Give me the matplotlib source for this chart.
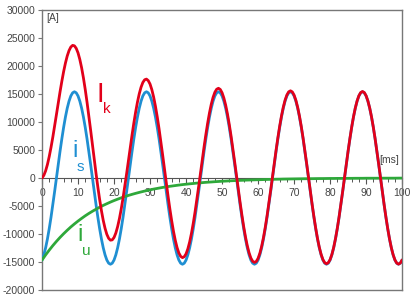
import matplotlib
matplotlib.use('agg')
import matplotlib.pyplot as plt
import numpy as np

plt.rcParams['font.family'] = ['Liberation Sans', 'DejaVu Sans']
plt.rcParams['axes.unicode_minus'] = False

# time axis [ms], 0.5 ms steps for the oscillating currents
t_ms = [0.5 * k for k in range(201)]

# symmetrical (AC) short-circuit current i_s [A], one 20 ms period
i_s_period = [-14650, -13720, -12460, -10890, -9050, -6990, -4760, -2410, 0, 2410,
              4760, 6990, 9050, 10890, 12460, 13720, 14650, 15210, 15400, 15210,
              14650, 13720, 12460, 10890, 9050, 6990, 4760, 2410, 0, -2410,
              -4760, -6990, -9050, -10890, -12460, -13720, -14650, -15210, -15400, -15210]
i_s = (i_s_period * 6)[:201]

# total short-circuit current i_k [A]
i_k = [0, 470, 1280, 2410, 3830, 5480, 7310, 9280, 11320, 13370,
       15370, 17260, 19000, 20520, 21790, 22750, 23390, 23680, 23600, 23150,
       22340, 21160, 19670, 17870, 15810, 13530, 11090, 8540, 5940, 3340,
       810, -1600, -3830, -5840, -7570, -8980, -10060, -10770, -11100, -11050,
       -10620, -9820, -8680, -7230, -5510, -3560, -1440, 810, 3110, 5430,
       7680, 9820, 11790, 13540, 15030, 16210, 17060, 17540, 17660, 17390,
       16770, 15770, 14440, 12810, 10910, 8790, 6500, 4100, 1630, -830,
       -3230, -5510, -7610, -9500, -11110, -12420, -13390, -13990, -14220, -14060,
       -13540, -12650, -11420, -9880, -8080, -6050, -3850, -1530, 860, 3240,
       5560, 7770, 9800, 11620, 13170, 14400, 15310, 15850, 16020, 15810,
       15230, 14280, 13010, 11420, 9560, 7490, 5240, 2870, 450, -1980,
       -4340, -6580, -8660, -10510, -12090, -13360, -14300, -14870, -15070, -14900,
       -14350, -13420, -12170, -10610, -8780, -6730, -4510, -2170, 240, 2640,
       4980, 7200, 9260, 11090, 12650, 13910, 14830, 15390, 15570, 15380,
       14810, 13880, 12610, 11040, 9190, 7130, 4890, 2540, 120, -2290,
       -4640, -6880, -8940, -10790, -12360, -13620, -14550, -15120, -15310, -15120,
       -14570, -13640, -12380, -10810, -8980, -6920, -4690, -2340, 60, 2470,
       4820, 7050, 9110, 10950, 12510, 13770, 14700, 15260, 15450, 15260,
       14690, 13760, 12500, 10930, 9090, 7030, 4800, 2450, 30, -2380,
       -4730, -6960, -9020, -10860, -12430, -13690, -14620, -15190, -15380, -15190,
       -14630]

# decaying DC component i_u [A], 1 ms steps
t_u = list(range(0, 101))
i_u = [-14650, -13730, -12880, -12070, -11320, -10610, -9950, -9330, -8740, -8200,
       -7690, -7210, -6750, -6330, -5940, -5570, -5220, -4890, -4590, -4300,
       -4030, -3780, -3540, -3320, -3110, -2920, -2740, -2570, -2410, -2260,
       -2110, -1980, -1860, -1740, -1630, -1530, -1440, -1350, -1260, -1180,
       -1110, -1040, -980, -910, -860, -800, -750, -710, -660, -620,
       -580, -550, -510, -480, -450, -420, -400, -370, -350, -330,
       -310, -290, -270, -250, -240, -220, -210, -190, -180, -170,
       -160, -150, -140, -130, -120, -120, -110, -100, -100, -90,
       -80, -80, -70, -70, -70, -60, -60, -50, -50, -50,
       -40, -40, -40, -40, -30, -30, -30, -30, -30, -20, -20]

RED = '#e2001a'
BLUE = '#1f8fd2'
GREEN = '#2ea83a'
GRAY = '#777777'
TXT = '#444444'

fig = plt.figure(figsize=(4.12, 3.0), dpi=100)
ax = fig.add_axes([0.102, 0.0333, 0.874, 0.9334])

kw = dict(lw=2.0, solid_joinstyle='round', solid_capstyle='round')
ax.plot(t_ms, i_s, color=BLUE, zorder=3, **kw)
ax.plot(t_u, i_u, color=GREEN, zorder=4, **kw)
ax.plot(t_ms, i_k, color=RED, zorder=5, **kw)

ax.set_xlim(0, 100)
ax.set_ylim(-20000, 30000)

# x axis runs along i = 0, the frame is closed separately
ax.spines['bottom'].set_position(('data', 0))
ax.spines['bottom'].set_color('#555555')
ax.spines['bottom'].set_zorder(2)
for s in ['left', 'right', 'top']:
    ax.spines[s].set_color(GRAY)
    ax.spines[s].set_linewidth(1.0)
ax.plot([0, 1], [0, 0], transform=ax.transAxes, color=GRAY, lw=1.0, clip_on=False)

ax.set_xticks(np.arange(0, 101, 10))
ax.set_xticks(np.arange(0, 101, 2), minor=True)
ax.set_yticks(np.arange(-20000, 30001, 5000))
ax.tick_params(axis='x', which='major', direction='out', length=4, width=0.8,
               color='#555555', labelsize=7.5, labelcolor=TXT, pad=3)
ax.tick_params(axis='x', which='minor', direction='out', length=3, width=0.7,
               color='#555555')
ax.tick_params(axis='y', direction='out', length=3, width=0.8, color=GRAY,
               labelsize=7.5, labelcolor=TXT, pad=2)

ax.text(1.2, 28600, '[A]', fontsize=7.5, color=TXT, va='center', ha='left')
ax.text(99.3, 3300, '[ms]', fontsize=7.5, color=TXT, va='center', ha='right')

# curve labels
ax.text(15.2, 14800, 'I', fontsize=20, color=RED, va='center', ha='left')
ax.text(16.9, 12400, 'k', fontsize=11, color=RED, va='center', ha='left')
ax.text(8.4, 4900, 'i', fontsize=17, color=BLUE, va='center', ha='left')
ax.text(9.7, 1900, 's', fontsize=11, color=BLUE, va='center', ha='left')
ax.text(9.7, -10100, 'i', fontsize=17, color=GREEN, va='center', ha='left')
ax.text(11.0, -13100, 'u', fontsize=11, color=GREEN, va='center', ha='left')

fig.savefig('out.png', dpi=100)
